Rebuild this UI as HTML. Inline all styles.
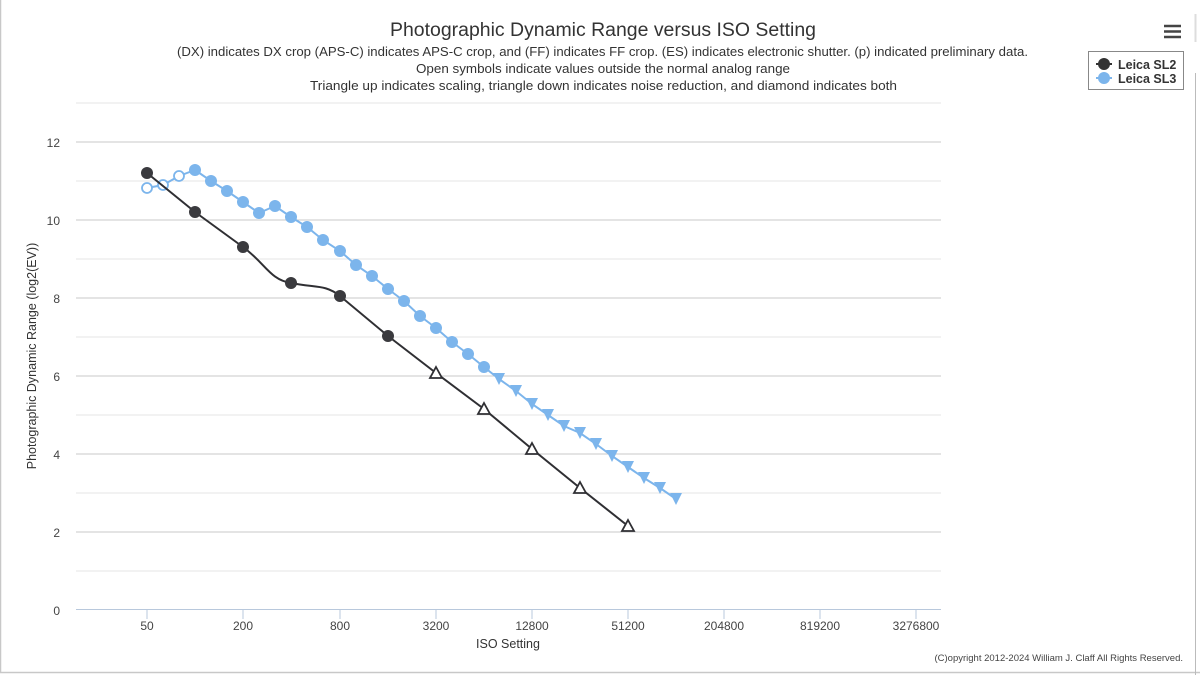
<!DOCTYPE html>
<html><head><meta charset="utf-8"><style>
html,body{margin:0;padding:0;background:#fff;}
body{width:1200px;height:675px;overflow:hidden;position:relative;font-family:"Liberation Sans",sans-serif;}
</style></head><body>
<svg width="1200" height="675" viewBox="0 0 1200 675" xmlns="http://www.w3.org/2000/svg" font-family="Liberation Sans, sans-serif">
<rect x="0.5" y="-1" width="1300" height="673.5" fill="none" stroke="#c8c8c8" stroke-width="1.5"/>
<line x1="1195.5" y1="73" x2="1195.5" y2="675" stroke="#bbb"/>
<line x1="1195.5" y1="14" x2="1195.5" y2="42" stroke="#ddd" stroke-width="2"/>
<text x="390" y="36" textLength="426" lengthAdjust="spacingAndGlyphs" font-size="19" fill="#333">Photographic Dynamic Range versus ISO Setting</text>
<text x="177" y="56" textLength="851" lengthAdjust="spacingAndGlyphs" font-size="12.5" fill="#333">(DX) indicates DX crop (APS-C) indicates APS-C crop, and (FF) indicates FF crop. (ES) indicates electronic shutter. (p) indicated preliminary data.</text>
<text x="416" y="73" textLength="374" lengthAdjust="spacingAndGlyphs" font-size="12.5" fill="#333">Open symbols indicate values outside the normal analog range</text>
<text x="310" y="90" textLength="587" lengthAdjust="spacingAndGlyphs" font-size="12.5" fill="#333">Triangle up indicates scaling, triangle down indicates noise reduction, and diamond indicates both</text>
<g stroke="#444" stroke-width="2.5"><line x1="1164" y1="26" x2="1181" y2="26"/><line x1="1164" y1="31.5" x2="1181" y2="31.5"/><line x1="1164" y1="37" x2="1181" y2="37"/></g>
<rect x="1088.5" y="51.5" width="95" height="38" fill="#fff" stroke="#888"/>
<line x1="1096" y1="64" x2="1112" y2="64" stroke="#333" stroke-width="2"/><circle cx="1104" cy="64" r="6" fill="#333"/>
<line x1="1096" y1="78" x2="1112" y2="78" stroke="#7cb5ec" stroke-width="2"/><circle cx="1104" cy="78" r="6" fill="#7cb5ec"/>
<text x="1118" y="69" font-size="12.5" font-weight="bold" fill="#333">Leica SL2</text>
<text x="1118" y="83" font-size="12.5" font-weight="bold" fill="#333">Leica SL3</text>
<g stroke="#e6e6e6"><line x1="76" y1="103" x2="941" y2="103"/><line x1="76" y1="181" x2="941" y2="181"/><line x1="76" y1="259" x2="941" y2="259"/><line x1="76" y1="337" x2="941" y2="337"/><line x1="76" y1="415" x2="941" y2="415"/><line x1="76" y1="493" x2="941" y2="493"/><line x1="76" y1="571" x2="941" y2="571"/></g>
<g stroke="#c8c8c8"><line x1="76" y1="142" x2="941" y2="142"/><line x1="76" y1="220" x2="941" y2="220"/><line x1="76" y1="298" x2="941" y2="298"/><line x1="76" y1="376" x2="941" y2="376"/><line x1="76" y1="454" x2="941" y2="454"/><line x1="76" y1="532" x2="941" y2="532"/></g>
<line x1="76" y1="609.5" x2="941" y2="609.5" stroke="#b8c8dc"/>
<g stroke="#b8c8dc"><line x1="147" y1="610" x2="147" y2="619"/><line x1="243" y1="610" x2="243" y2="619"/><line x1="340" y1="610" x2="340" y2="619"/><line x1="436" y1="610" x2="436" y2="619"/><line x1="532" y1="610" x2="532" y2="619"/><line x1="628" y1="610" x2="628" y2="619"/><line x1="724" y1="610" x2="724" y2="619"/><line x1="820" y1="610" x2="820" y2="619"/><line x1="916" y1="610" x2="916" y2="619"/></g>
<g font-size="12" fill="#444" text-anchor="end"><text x="60" y="147">12</text><text x="60" y="225">10</text><text x="60" y="303">8</text><text x="60" y="381">6</text><text x="60" y="459">4</text><text x="60" y="537">2</text><text x="60" y="615">0</text></g>
<g font-size="12" fill="#444" text-anchor="middle"><text x="147" y="630">50</text><text x="243" y="630">200</text><text x="340" y="630">800</text><text x="436" y="630">3200</text><text x="532" y="630">12800</text><text x="628" y="630">51200</text><text x="724" y="630">204800</text><text x="820" y="630">819200</text><text x="916" y="630">3276800</text></g>
<text x="508" y="648" text-anchor="middle" font-size="12.5" fill="#333">ISO Setting</text>
<text transform="translate(36,356) rotate(-90)" text-anchor="middle" font-size="12.5" fill="#333">Photographic Dynamic Range (log2(EV))</text>
<text x="1183" y="661" text-anchor="end" font-size="9.5" fill="#444">(C)opyright 2012-2024 William J. Claff All Rights Reserved.</text>
<polyline fill="none" stroke="#7cb5ec" stroke-width="2" points="147,188 163,185 179,176 195,170 211,181 227,191 243,202 259,213 275,206 291,217 307,227 323,240 340,251 356,265 372,276 388,289 404,301 420,316 436,328 452,342 468,354 484,367 499,379 516,391 532,404 548,415 564,426 580,433 596,444 612,456 628,467 644,478 660,488 676,499"/>
<g fill="#fff" stroke="#7cb5ec" stroke-width="1.8"><circle cx="147" cy="188" r="5"/><circle cx="163" cy="185" r="5"/><circle cx="179" cy="176" r="5"/></g>
<g fill="#7cb5ec"><circle cx="195" cy="170" r="6"/><circle cx="211" cy="181" r="6"/><circle cx="227" cy="191" r="6"/><circle cx="243" cy="202" r="6"/><circle cx="259" cy="213" r="6"/><circle cx="275" cy="206" r="6"/><circle cx="291" cy="217" r="6"/><circle cx="307" cy="227" r="6"/><circle cx="323" cy="240" r="6"/><circle cx="340" cy="251" r="6"/><circle cx="356" cy="265" r="6"/><circle cx="372" cy="276" r="6"/><circle cx="388" cy="289" r="6"/><circle cx="404" cy="301" r="6"/><circle cx="420" cy="316" r="6"/><circle cx="436" cy="328" r="6"/><circle cx="452" cy="342" r="6"/><circle cx="468" cy="354" r="6"/><circle cx="484" cy="367" r="6"/></g>
<g fill="#7cb5ec">
<polygon points="493,373 505,373 499,385"/><polygon points="510,385 522,385 516,397"/><polygon points="526,398 538,398 532,410"/><polygon points="542,409 554,409 548,421"/><polygon points="558,420 570,420 564,432"/><polygon points="574,427 586,427 580,439"/><polygon points="590,438 602,438 596,450"/><polygon points="606,450 618,450 612,462"/><polygon points="622,461 634,461 628,473"/><polygon points="638,472 650,472 644,484"/><polygon points="654,482 666,482 660,494"/><polygon points="670,493 682,493 676,505"/>
</g>
<path fill="none" stroke="#2f2f33" stroke-width="2" d="M147,173 L195,212 L243,247 C265,263 270,280 291,283 C315,288 325,284 340,296 L388,336 L436,373 L484,409 L532,449 L580,488 L628,526"/>
<g fill="#3a3a3e"><circle cx="147" cy="173" r="6"/><circle cx="195" cy="212" r="6"/><circle cx="243" cy="247" r="6"/><circle cx="291" cy="283" r="6"/><circle cx="340" cy="296" r="6"/><circle cx="388" cy="336" r="6"/></g>
<g fill="#fff" stroke="#2f2f33" stroke-width="1.8">
<polygon points="436,367 442,378 430,378"/><polygon points="484,403 490,414 478,414"/><polygon points="532,443 538,454 526,454"/><polygon points="580,482 586,493 574,493"/><polygon points="628,520 634,531 622,531"/>
</g>
</svg>
</body></html>
